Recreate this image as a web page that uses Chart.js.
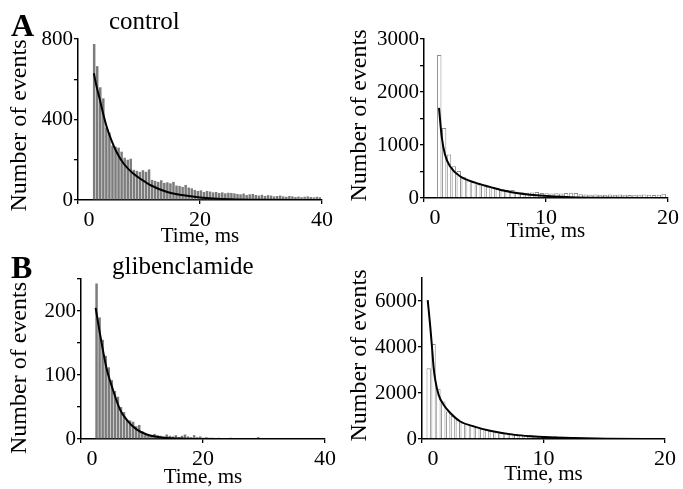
<!DOCTYPE html>
<html>
<head>
<meta charset="utf-8">
<script src="https://cdn.jsdelivr.net/npm/chart.js@4.4.0/dist/chart.umd.min.js"></script>
<style>
  html, body { margin: 0; padding: 0; background: #fff; overflow: hidden; }
  #page { position: relative; width: 683px; height: 489px; overflow: hidden;
          font-family: 'Liberation Serif', 'Times New Roman', serif; color: #000; }
  canvas { position: absolute; }
  .tag { position: absolute; line-height: 1; white-space: nowrap; }
  .letter { font-weight: bold; font-size: 32px; }
  .cond { font-size: 25px; }
</style>
</head>
<body>
<div id="page">
  <canvas id="controlLeft"></canvas>
  <canvas id="controlRight"></canvas>
  <canvas id="glibLeft"></canvas>
  <canvas id="glibRight"></canvas>
  <div class="tag letter" style="left:11px;top:9px">A</div>
  <div class="tag cond" style="left:109px;top:8px">control</div>
  <div class="tag letter" style="left:11px;top:251px">B</div>
  <div class="tag cond" style="left:112px;top:253px">glibenclamide</div>
</div>
<script>
// Histogramas: inicio del primer bin y ancho del bin (ms), luego las cuentas por bin
const controlLeftBinStart = 2.4;
const controlLeftBinWidth = 0.5;
const controlLeftCounts = [775, 665, 560, 505, 360, 335, 270, 265, 260, 240,
  210, 200, 205, 150, 145, 140, 148, 140, 152, 100,
  95, 90, 98, 85, 88, 83, 90, 72, 70, 65,
  75, 62, 58, 50, 45, 48, 40, 45, 42, 38,
  40, 35, 38, 33, 36, 35, 33, 30, 28, 32,
  25, 28, 30, 25, 22, 26, 20, 24, 22, 18,
  20, 22, 18, 16, 20, 18, 15, 17, 14, 16,
  18, 15, 13, 16, 14];
const controlLeftFitTime = [2.6, 3.0, 3.6, 4.2, 4.7, 5.5, 6.3, 7.5, 9.0, 10.5, 12, 14.5, 17, 20, 25, 30, 40];
const controlLeftFitCounts = [630, 570, 497, 420, 364, 295, 240, 180, 133, 100, 72, 41, 25, 13, 4, 1, 0];

const controlRightBinStart = 1.05;
const controlRightBinWidth = 0.4;
const controlRightCounts = [2700, 1320, 820, 600, 510, 400, 330, 300, 260, 240,
  220, 200, 180, 165, 150, 150, 120, 110, 100, 105,
  115, 95, 90, 85, 90, 85, 95, 100, 95, 70,
  65, 60, 65, 60, 60, 65, 60, 65, 60, 55,
  60, 60, 65, 60, 55, 60, 80];
const controlRightFitTime = [1.23, 1.45, 1.72, 2.13, 2.95, 4.2, 5.4, 6.5, 8.0, 9.5, 12, 15, 20];
const controlRightFitCounts = [1700, 1160, 820, 600, 410, 290, 210, 140, 80, 45, 15, 5, 1];

const glibLeftBinStart = 2.3;
const glibLeftBinWidth = 0.5;
const glibLeftCounts = [243, 190, 155, 130, 112, 92, 75, 66, 50, 42,
  30, 29, 27, 20, 22, 12, 8, 7, 6, 8,
  6, 5, 4, 7, 5, 4, 6, 3, 5, 7,
  4, 3, 6, 3, 4, 2, 3, 2, 2, 1,
  2, 1, 1, 1, 2, 1, 1, 1, 0, 1,
  1, 1, 1, 3, 1, 1, 0, 1, 1, 0,
  1, 0, 1, 1, 0, 1, 0, 1, 0, 1,
  0, 1, 0, 0, 1];
const glibLeftFitTime = [2.4, 3.1, 4.2, 5.3, 6.4, 7.5, 9.1, 10.8, 13.5, 17, 25, 40];
const glibLeftFitCounts = [205, 165, 110, 75, 46, 30, 15, 7, 2, 0.5, 0, 0];

const glibRightBinStart = 0.35;
const glibRightBinWidth = 0.4;
const glibRightCounts = [3080, 4130, 2180, 1630, 1200, 1010, 820, 720, 660, 600,
  520, 450, 400, 360, 320, 290, 260, 240, 220, 200,
  180, 190, 150, 130, 115, 110, 120, 95, 85, 75,
  70, 60, 55, 50, 45, 40, 38, 35, 30, 28,
  25, 22, 20, 20, 18, 15, 15, 12, 12];
const glibRightFitTime = [0.47, 0.68, 0.82, 0.95, 1.09, 1.37, 1.78, 2.33, 3.15, 4.24, 5.6, 7.5, 8.9, 10.5, 12.5, 15.2, 20];
const glibRightFitCounts = [6040, 4890, 4020, 3150, 2570, 1920, 1490, 1130, 760, 550, 360, 190, 120, 75, 43, 14, 3];

// Marcas de los ejes
const controlLeftXTicks = [0, 20, 40];
const controlLeftYTicks = [0, 200, 400, 600, 800];
const controlLeftYLabels = [0, 400, 800];
const controlRightXTicks = [0, 10, 20];
const controlRightYTicks = [0, 500, 1000, 1500, 2000, 2500, 3000];
const controlRightYLabels = [0, 1000, 2000, 3000];
const glibLeftXTicks = [0, 20, 40];
const glibLeftYTicks = [0, 50, 100, 150, 200, 250];
const glibLeftYLabels = [0, 100, 200];
const glibRightXTicks = [0, 10, 20];
const glibRightYTicks = [0, 2000, 4000, 6000];
const glibRightYLabels = [0, 2000, 4000, 6000];

Chart.defaults.font.family = "'Liberation Serif', 'Times New Roman', serif";
Chart.defaults.color = '#000';

// Crea un panel con histograma + curva de ajuste; box = lienzo, area = zona de datos (px de página)
function makePanel(id, box, area, s) {
  const canvas = document.getElementById(id);
  canvas.width = box.w;
  canvas.height = box.h;
  canvas.style.left = box.left + 'px';
  canvas.style.top = box.top + 'px';

  const bars = s.counts.map((c, i) => ({ x: s.binStart + (i + 0.5) * s.binWidth, y: c }));
  const fit = s.fitTime.map((t, i) => ({ x: t, y: s.fitCounts[i] }));

  const axisGrid = { drawOnChartArea: false, drawTicks: true, tickLength: 4, color: '#000', lineWidth: 1.3, offset: false };
  const axisBorder = { color: '#000', width: 1.5 };

  new Chart(canvas.getContext('2d'), {
    type: 'bar',
    data: {
      datasets: [{
        type: 'bar',
        data: bars,
        backgroundColor: s.fill,
        borderColor: s.edge,
        borderWidth: s.edgeWidth,
        barPercentage: s.barPct,
        categoryPercentage: 1,
        order: 2
      }, {
        type: 'line',
        data: fit,
        borderColor: '#000',
        borderWidth: 2,
        pointRadius: 0,
        fill: false,
        cubicInterpolationMode: 'monotone',
        order: 1
      }]
    },
    options: {
      responsive: false,
      animation: false,
      devicePixelRatio: 1,
      layout: { padding: { left: 0, bottom: 0, top: area.T - box.top, right: box.left + box.w - area.R } },
      plugins: { legend: { display: false }, tooltip: { enabled: false } },
      scales: {
        x: {
          type: 'linear',
          min: 0,
          max: s.xMax,
          offset: false,
          grid: axisGrid,
          border: axisBorder,
          afterBuildTicks: sc => { sc.ticks = s.xTicks.map(v => ({ value: v })); },
          ticks: {
            autoSkip: false,
            maxRotation: 0,
            padding: 3,
            font: { size: 22 },
            callback: v => v === 0 ? '    0' : String(v)
          },
          title: { display: true, text: 'Time, ms', font: { size: 21 }, padding: { top: 0, bottom: 4 } },
          afterFit: sc => { sc.height = box.top + box.h - area.B; }
        },
        y: {
          type: 'linear',
          min: 0,
          max: s.yMax,
          grid: axisGrid,
          border: axisBorder,
          afterBuildTicks: sc => { sc.ticks = s.yTicks.map(v => ({ value: v })); },
          ticks: {
            autoSkip: false,
            padding: 1,
            font: { size: 21 },
            callback: v => s.yLabels.includes(v) ? String(v) : ''
          },
          // los espacios desplazan un poco el título, como en la figura original
          title: { display: true, text: s.yTitle, font: { size: 24 }, padding: { top: 5, bottom: 0 } },
          afterFit: sc => { sc.width = area.L - box.left; }
        }
      }
    }
  });
}

const grayBars = { fill: '#7c7c7c', edge: '#7c7c7c', edgeWidth: 0, barPct: 0.82 };
const openBars = { fill: '#ffffff', edge: '#8a8a8a', edgeWidth: 1, barPct: 0.9 };

makePanel('controlLeft', { left: 0, top: 0, w: 340, h: 253 }, { L: 78, R: 322, T: 39, B: 200 },
  Object.assign({ binStart: controlLeftBinStart, binWidth: controlLeftBinWidth, counts: controlLeftCounts,
    fitTime: controlLeftFitTime, fitCounts: controlLeftFitCounts, yTitle: 'Number of events  ',
    xMax: 40, xTicks: controlLeftXTicks, yMax: 800, yTicks: controlLeftYTicks, yLabels: controlLeftYLabels }, grayBars));

makePanel('controlRight', { left: 340, top: 0, w: 343, h: 248 }, { L: 424, R: 668, T: 39, B: 198 },
  Object.assign({ binStart: controlRightBinStart, binWidth: controlRightBinWidth, counts: controlRightCounts,
    fitTime: controlRightFitTime, fitCounts: controlRightFitCounts, yTitle: ' Number of events',
    xMax: 20, xTicks: controlRightXTicks, yMax: 3000, yTicks: controlRightYTicks, yLabels: controlRightYLabels }, openBars));

makePanel('glibLeft', { left: 0, top: 250, w: 340, h: 244 }, { L: 81, R: 325, T: 279, B: 439 },
  Object.assign({ binStart: glibLeftBinStart, binWidth: glibLeftBinWidth, counts: glibLeftCounts,
    fitTime: glibLeftFitTime, fitCounts: glibLeftFitCounts, yTitle: 'Number of events   ',
    xMax: 40, xTicks: glibLeftXTicks, yMax: 250, yTicks: glibLeftYTicks, yLabels: glibLeftYLabels }, grayBars));

makePanel('glibRight', { left: 340, top: 250, w: 343, h: 241 }, { L: 422, R: 665, T: 278, B: 439 },
  Object.assign({ binStart: glibRightBinStart, binWidth: glibRightBinWidth, counts: glibRightCounts,
    fitTime: glibRightFitTime, fitCounts: glibRightFitCounts, yTitle: ' Number of events',
    xMax: 20, xTicks: glibRightXTicks, yMax: 7000, yTicks: glibRightYTicks, yLabels: glibRightYLabels }, openBars));
</script>
</body>
</html>
